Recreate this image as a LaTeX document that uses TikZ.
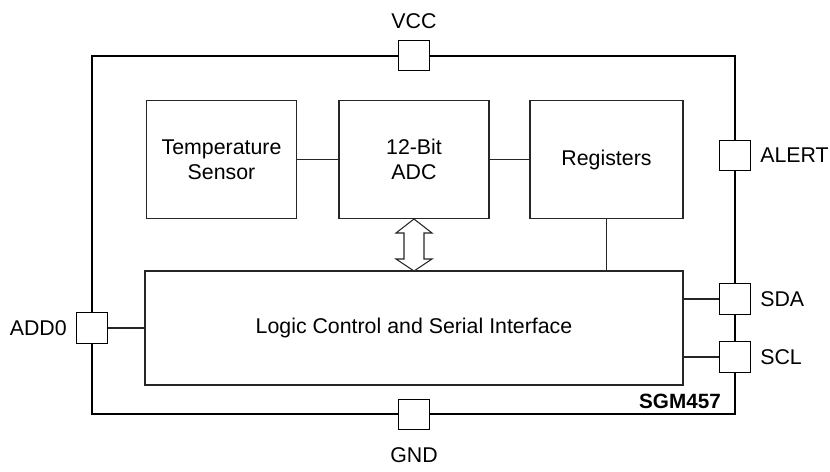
\documentclass[tikz,border=0pt]{standalone}
\usepackage{fontspec}
\setmainfont{Liberation Sans}
\begin{document}
\begin{tikzpicture}[x=0.75pt,y=-0.75pt,
  blk/.style={draw=black!85, line width=0.9pt, fill=white, inner sep=0pt, align=center, font=\fontsize{16}{19}\selectfont},
  pin/.style={draw=black, line width=0.8pt, fill=white, minimum size=23pt, inner sep=0pt},
  lbl/.style={font=\fontsize{16}{19}\selectfont, inner sep=0pt},
  wire/.style={draw=black!85, line width=0.9pt},
  thick/.style={draw=black, line width=2.2pt}]
\useasboundingbox (0,0) rectangle (830,471);
% outer package
\draw[thick] (92,56) rectangle (735,414);
% blocks
\node[blk, minimum width=113pt, minimum height=89pt] (temp) at (221.5,159.5) {Temperature\\Sensor};
\node[blk, minimum width=112.5pt, minimum height=89pt] (adc) at (414,159.5) {12-Bit\\ADC};
\node[blk, minimum width=114.75pt, minimum height=89pt] (reg) at (606.5,159.5) {Registers};
\node[blk, minimum width=403.5pt, minimum height=85.5pt] (logic) at (414,328) {Logic Control and Serial Interface};
% pins
\node[pin] (vcc) at (414,55.5) {};
\node[pin] (gnd) at (414,414.5) {};
\node[pin] (add) at (92,328) {};
\node[pin] (alert) at (735,155.5) {};
\node[pin] (sda) at (735,299) {};
\node[pin] (scl) at (735,357) {};
% pin labels
\node[lbl] (vccl) at (414,21) {VCC};
\node[lbl] (gndl) at (414,455) {GND};
\node[lbl, anchor=east] (addl) at (67,328) {ADD0};
\node[lbl, anchor=west] (alertl) at (760,155.5) {ALERT};
\node[lbl, anchor=west] (sdal) at (760,299) {SDA};
\node[lbl, anchor=west] (sclp) at (760,357) {SCL};
\node[lbl, font=\bfseries\fontsize{15.5}{18}\selectfont, anchor=east] (name) at (721,401) {SGM457};
% wires
\draw[wire] (temp.east) -- (adc.west);
\draw[wire] (adc.east) -- (reg.west);
\draw[wire] (reg.south) -- (reg.south |- logic.north);
\draw[wire] (add.east) -- (add.east -| logic.west);
\draw[wire] (sda.west -| logic.east) -- (sda.west);
\draw[wire] (scl.west -| logic.east) -- (scl.west);
% double arrow
\draw[draw=black!85, line width=0.8pt, fill=white]
  (414,219) -- (432,233) -- (424,233) -- (424,259) -- (432,259) -- (414,271)
  -- (396,259) -- (404,259) -- (404,233) -- (396,233) -- cycle;
\end{tikzpicture}
\end{document}
